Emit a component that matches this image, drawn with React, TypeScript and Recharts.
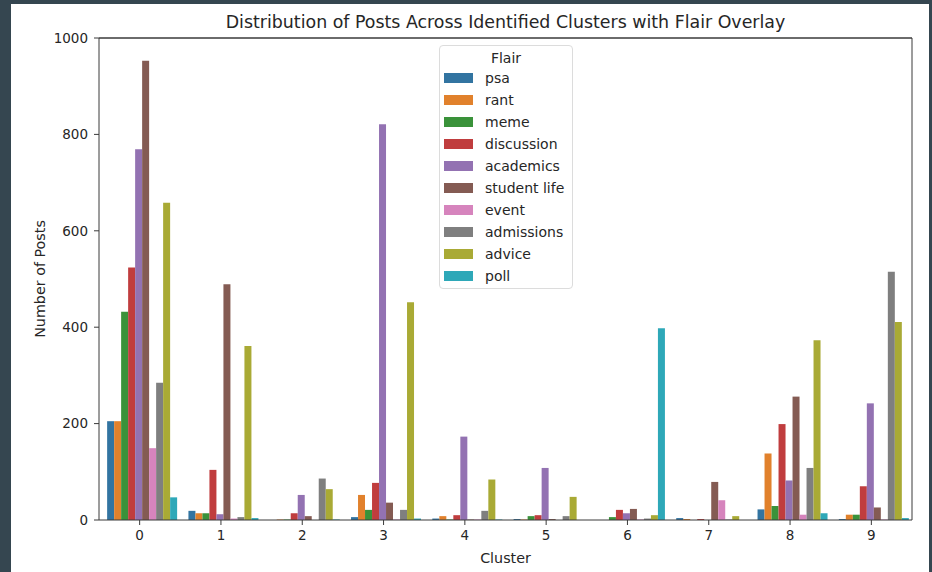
import React from "react";
import { BarChart, Bar, XAxis, YAxis, Legend, Label, ReferenceLine } from "recharts";

const clusters = ["0", "1", "2", "3", "4", "5", "6", "7", "8", "9"];
const flairs = [
  "psa",
  "rant",
  "meme",
  "discussion",
  "academics",
  "student life",
  "event",
  "admissions",
  "advice",
  "poll",
];
const flairColors = [
  "#3274a1",
  "#e1812c",
  "#3a923a",
  "#c03d3e",
  "#9372b2",
  "#845b53",
  "#d684bd",
  "#7f7f7f",
  "#a9aa35",
  "#2ea8b8",
];

// posts per cluster (0..9), one array per flair
const psa = [205, 19, 0, 6, 3, 2, 0, 4, 22, 2];
const rant = [205, 14, 1, 52, 8, 1, 0, 2, 138, 11];
const meme = [432, 14, 1, 21, 1, 8, 6, 0, 29, 11];
const discussion = [524, 104, 14, 77, 10, 10, 21, 2, 199, 70];
const academics = [769, 12, 52, 821, 173, 108, 14, 0, 82, 242];
const studentLife = [953, 489, 8, 36, 1, 2, 23, 79, 256, 26];
const event = [149, 3, 0, 1, 1, 0, 1, 41, 11, 1];
const admissions = [285, 6, 86, 21, 19, 8, 3, 1, 108, 515];
const advice = [658, 361, 64, 452, 84, 48, 10, 8, 373, 411];
const poll = [47, 4, 1, 3, 1, 0, 398, 0, 14, 4];

const series = [psa, rant, meme, discussion, academics, studentLife, event, admissions, advice, poll];
const yTicks = [0, 200, 400, 600, 800, 1000];

const data = clusters.map((c, i) => {
  const row: Record<string, string | number> = { cluster: c };
  series.forEach((s, j) => {
    row[`f${j}`] = s[i];
  });
  return row;
});

const FONT = "'DejaVu Sans', sans-serif";
const INK = "#262626";
const SPINE = "#3a3a3a";

function FlairLegend() {
  return (
    <div
      style={{
        width: 134,
        height: 244,
        boxSizing: "border-box",
        border: "1px solid #dcdcdc",
        borderRadius: 4,
        background: "rgba(255,255,255,0.85)",
        fontFamily: FONT,
        fontSize: 14,
        color: INK,
        paddingTop: 3,
      }}
    >
      <div style={{ textAlign: "center", height: 18, lineHeight: "18px" }}>Flair</div>
      {flairs.map((f, i) => (
        <div key={f} style={{ display: "flex", alignItems: "center", height: 22.05 }}>
          <span
            style={{
              display: "inline-block",
              width: 29,
              height: 10,
              marginLeft: 4,
              marginRight: 12,
              background: flairColors[i],
            }}
          />
          <span style={{ whiteSpace: "nowrap" }}>{f}</span>
        </div>
      ))}
    </div>
  );
}

export default function App() {
  return (
    <div
      style={{
        position: "absolute",
        left: 0,
        top: 0,
        width: 932,
        height: 572,
        background: "#354650",
        overflow: "hidden",
      }}
    >
      <div style={{ position: "absolute", left: 11, top: 4, width: 918, height: 568, background: "#fff" }}>
        <BarChart
          width={918}
          height={568}
          data={data}
          margin={{ top: 33, right: 16, bottom: 0, left: 0 }}
          barCategoryGap="10%"
          barGap={0}
        >
          <XAxis
            dataKey="cluster"
            height={52}
            tickSize={5}
            tickMargin={5}
            stroke={SPINE}
            tick={{ fill: INK, fontSize: 13.5, fontFamily: FONT }}
            axisLine={{ stroke: SPINE }}
            tickLine={{ stroke: SPINE }}
          >
            <Label
              content={() => (
                <g>
                  <text x={494.5} y={559} textAnchor="middle" fill={INK} fontSize={14.3} fontFamily={FONT}>
                    Cluster
                  </text>
                  <text x={494.5} y={24} textAnchor="middle" fill={INK} fontSize={17.4} fontFamily={FONT}>
                    Distribution of Posts Across Identified Clusters with Flair Overlay
                  </text>
                </g>
              )}
            />
          </XAxis>
          <XAxis
            xAxisId="top"
            orientation="top"
            dataKey="cluster"
            height={1}
            tick={false}
            tickLine={false}
            axisLine={{ stroke: SPINE }}
          />
          <YAxis
            width={88}
            domain={[0, 1000]}
            ticks={yTicks}
            interval={0}
            tickSize={5}
            tickMargin={6}
            tick={{ fill: INK, fontSize: 13.5, fontFamily: FONT }}
            axisLine={{ stroke: SPINE }}
            tickLine={{ stroke: SPINE }}
          >
            <Label
              content={() => (
                <text
                  x={29}
                  y={275}
                  transform="rotate(-90 29 275)"
                  textAnchor="middle"
                  dominantBaseline="central"
                  fill={INK}
                  fontSize={14.3}
                  fontFamily={FONT}
                >
                  Number of Posts
                </text>
              )}
            />
          </YAxis>
          <YAxis
            yAxisId="right"
            orientation="right"
            width={1}
            domain={[0, 1000]}
            tick={false}
            tickLine={false}
            axisLine={{ stroke: SPINE }}
          />
          <ReferenceLine y={1000} stroke={SPINE} ifOverflow="visible" />
          <Legend
            layout="vertical"
            align="center"
            verticalAlign="middle"
            wrapperStyle={{ left: 428, top: 41, width: 134 }}
            content={() => <FlairLegend />}
          />
          {flairs.map((f, j) => (
            <Bar key={f} dataKey={`f${j}`} name={f} fill={flairColors[j]} isAnimationActive={false} />
          ))}
        </BarChart>
      </div>
    </div>
  );
}
